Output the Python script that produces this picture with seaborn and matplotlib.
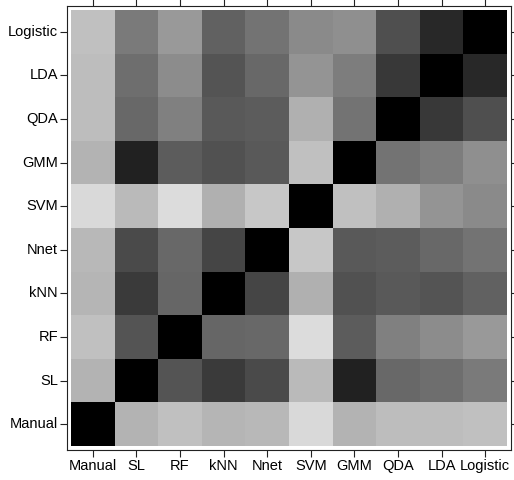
import numpy as np
import pandas as pd
import matplotlib
matplotlib.use("Agg")
import matplotlib.pyplot as plt
import seaborn as sns

# methods in column order (left to right); rows are shown in reverse
methods = ["Manual", "SL", "RF", "kNN", "Nnet", "SVM", "GMM", "QDA", "LDA", "Logistic"]

# pairwise dissimilarity (0 = identical -> black)
manual_row   = [0.00, 0.70, 0.75, 0.71, 0.72, 0.85, 0.70, 0.74, 0.74, 0.75]
sl_row       = [0.70, 0.00, 0.33, 0.23, 0.29, 0.73, 0.13, 0.41, 0.43, 0.48]
rf_row       = [0.75, 0.33, 0.00, 0.40, 0.41, 0.86, 0.36, 0.50, 0.55, 0.60]
knn_row      = [0.71, 0.23, 0.40, 0.00, 0.27, 0.69, 0.32, 0.35, 0.33, 0.38]
nnet_row     = [0.72, 0.29, 0.41, 0.27, 0.00, 0.78, 0.35, 0.36, 0.41, 0.45]
svm_row      = [0.85, 0.73, 0.86, 0.69, 0.78, 0.00, 0.75, 0.69, 0.58, 0.54]
gmm_row      = [0.70, 0.13, 0.36, 0.32, 0.35, 0.75, 0.00, 0.45, 0.49, 0.56]
qda_row      = [0.74, 0.41, 0.50, 0.35, 0.36, 0.69, 0.45, 0.00, 0.22, 0.31]
lda_row      = [0.74, 0.43, 0.55, 0.33, 0.41, 0.58, 0.49, 0.22, 0.00, 0.16]
logistic_row = [0.75, 0.48, 0.60, 0.38, 0.45, 0.54, 0.56, 0.31, 0.16, 0.00]

rows = [manual_row, sl_row, rf_row, knn_row, nnet_row,
        svm_row, gmm_row, qda_row, lda_row, logistic_row]
df = pd.DataFrame(rows, index=methods, columns=methods)
df = df.iloc[::-1]  # Logistic on top

sns.set_style("white")
plt.rcParams["font.family"] = ["Liberation Sans", "DejaVu Sans"]

fig = plt.figure(figsize=(5.14, 4.8), dpi=100)
ax = fig.add_axes([0.1304, 0.0625, 0.8638, 0.925])

sns.heatmap(df, cmap="gray", vmin=0, vmax=1, cbar=False, square=False,
            linewidths=0, ax=ax)

ax.set_xlim(-0.09, 10.09)
ax.set_ylim(10.09, -0.09)
for s in ax.spines.values():
    s.set_visible(True)
    s.set_color("#222222")
    s.set_linewidth(0.8)

ax.tick_params(axis="both", which="both", direction="out", length=5, width=0.8,
               color="#222222", labelcolor="black", top=True, right=True,
               bottom=True, left=True, labeltop=False, labelright=False,
               labelsize=10.5, pad=1.5)
plt.setp(ax.get_yticklabels(), rotation=0)
plt.setp(ax.get_xticklabels(), rotation=0)
ax.set_xlabel("")
ax.set_ylabel("")

fig.savefig("out.png", dpi=100)
